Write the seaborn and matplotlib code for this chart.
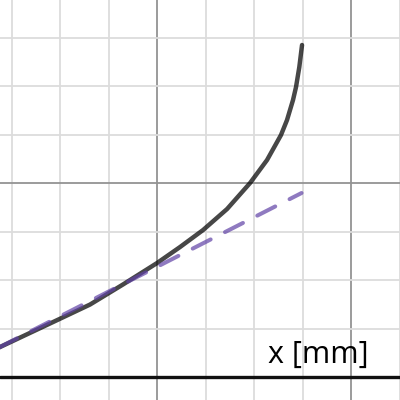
import numpy as np
import pandas as pd
import matplotlib
matplotlib.use("Agg")
import matplotlib.pyplot as plt
import seaborn as sns

# curve (x in mm)
curve_x = [0.278, 0.381, 0.897, 1.309, 1.649, 2.000, 2.237, 2.474, 2.722, 2.959,
           3.134, 3.278, 3.340, 3.402, 3.433, 3.467, 3.495]
curve_y = [0.261, 0.309, 0.552, 0.747, 0.954, 1.175, 1.340, 1.515, 1.732, 2.000,
           2.237, 2.495, 2.649, 2.856, 2.990, 3.196, 3.423]

# dashed straight line (linear approximation)
line_x = [0.278, 3.49]
line_y = [0.257, 1.897]

xlabel = "x [mm]"

sns.set_theme(style="white")
plt.rcParams['font.family'] = ['Open Sans', 'DejaVu Sans']

fig = plt.figure(figsize=(4, 4), dpi=100)
ax = fig.add_axes([0, 0, 1, 1])

curve = pd.DataFrame({"x": curve_x, "y": curve_y})
line = pd.DataFrame({"x": line_x, "y": line_y})

sns.lineplot(data=curve, x="x", y="y", ax=ax, sort=False, color="#000000",
             alpha=0.72, linewidth=3.2, zorder=5)
ax.lines[-1].set_solid_capstyle("round")
ax.lines[-1].set_solid_joinstyle("round")
sns.lineplot(data=line, x="x", y="y", ax=ax, sort=False, color="#6042a6",
             alpha=0.7, linewidth=2.9, zorder=6)
ax.lines[-1].set_linestyle((0, (5, 4)))
ax.lines[-1].set_dash_capstyle("round")

# grid like a graphing calculator: minor every 0.5, major every 2
ax.set_xticks(np.arange(0, 5, 2))
ax.set_xticks(np.arange(0, 5, 0.5), minor=True)
ax.set_yticks(np.arange(0, 5, 2))
ax.set_yticks(np.arange(0, 5, 0.5), minor=True)
ax.set_xlim(0.381, 4.505)
ax.set_ylim(-0.237, 3.887)
ax.grid(which="minor", color="#dcdcdc", linewidth=1.3, zorder=0)
ax.grid(which="major", color="#939393", linewidth=1.3, zorder=1)
ax.set_axisbelow(True)
ax.tick_params(which="both", length=0, labelbottom=False, labelleft=False)
for s in ax.spines.values():
    s.set_visible(False)

ax.axhline(0, color="#111111", linewidth=2.4, zorder=3)

ax.text(4.18, 0.144, xlabel, ha="right", va="baseline", fontsize=22, color="#000000", zorder=7)
ax.set_xlabel("")
ax.set_ylabel("")

fig.savefig("out.png", dpi=100)
